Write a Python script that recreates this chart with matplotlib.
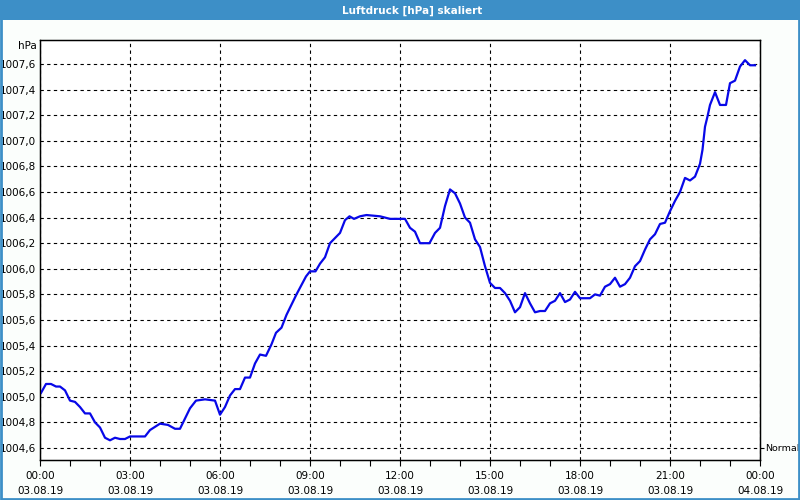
import matplotlib
matplotlib.use("Agg")
import matplotlib.pyplot as plt
from matplotlib.patches import Rectangle
import numpy as np

# minutes after 03.08.19 00:00
minutes = [2, 12, 22, 32, 40, 50, 60, 70, 80, 90, 100, 110, 120, 130, 140, 150,
           160, 170, 180, 190, 210, 220, 240, 256, 270, 280, 300, 312, 330, 350,
           360, 370, 380, 390, 400, 410, 420, 430, 440, 452, 463, 472, 483, 493,
           513, 532, 540, 551, 560, 570, 580, 600, 610, 619, 628, 640, 653, 680,
           700, 730, 740, 750, 760, 779, 790, 800, 810, 820, 830, 840, 850, 860,
           870, 880, 890, 900, 910, 920, 930, 940, 950, 960, 970, 980, 990, 1000,
           1010, 1020, 1030, 1040, 1050, 1060, 1070, 1080, 1100, 1110, 1120, 1130,
           1140, 1150, 1160, 1170, 1180, 1190, 1200, 1210, 1220, 1230, 1240, 1250,
           1260, 1270, 1280, 1290, 1300, 1310, 1320, 1325, 1330, 1335, 1340, 1350,
           1360, 1372, 1380, 1390, 1400, 1410, 1420, 1430]
pressure = [1005.03, 1005.10, 1005.10, 1005.08, 1005.08, 1005.05, 1004.97, 1004.96,
            1004.92, 1004.87, 1004.87, 1004.80, 1004.76, 1004.68, 1004.66, 1004.68,
            1004.67, 1004.67, 1004.69, 1004.69, 1004.69, 1004.74, 1004.79, 1004.78,
            1004.75, 1004.75, 1004.91, 1004.97, 1004.98, 1004.97, 1004.86, 1004.92,
            1005.01, 1005.06, 1005.06, 1005.15, 1005.15, 1005.26, 1005.33, 1005.32,
            1005.41, 1005.50, 1005.54, 1005.64, 1005.80, 1005.94, 1005.98, 1005.98,
            1006.04, 1006.09, 1006.20, 1006.28, 1006.38, 1006.41, 1006.39, 1006.41,
            1006.42, 1006.41, 1006.39, 1006.39, 1006.32, 1006.29, 1006.20, 1006.20,
            1006.28, 1006.32, 1006.49, 1006.62, 1006.59, 1006.51, 1006.40, 1006.36,
            1006.23, 1006.17, 1006.02, 1005.89, 1005.85, 1005.85, 1005.81, 1005.75,
            1005.66, 1005.70, 1005.81, 1005.73, 1005.66, 1005.67, 1005.67, 1005.73,
            1005.75, 1005.81, 1005.74, 1005.76, 1005.82, 1005.77, 1005.77, 1005.80,
            1005.79, 1005.86, 1005.88, 1005.93, 1005.86, 1005.88, 1005.93, 1006.02,
            1006.06, 1006.15, 1006.23, 1006.27, 1006.35, 1006.36, 1006.45, 1006.53,
            1006.60, 1006.71, 1006.69, 1006.72, 1006.82, 1006.93, 1007.11, 1007.19,
            1007.28, 1007.38, 1007.28, 1007.28, 1007.45, 1007.47, 1007.58, 1007.63,
            1007.59, 1007.59]

x_ticks = [0, 3, 6, 9, 12, 15, 18, 21, 24]
x_labels = ["00:00\n03.08.19", "03:00\n03.08.19", "06:00\n03.08.19",
            "09:00\n03.08.19", "12:00\n03.08.19", "15:00\n03.08.19",
            "18:00\n03.08.19", "21:00\n03.08.19", "00:00\n04.08.19"]
y_ticks = [1004.6, 1004.8, 1005.0, 1005.2, 1005.4, 1005.6, 1005.8, 1006.0,
           1006.2, 1006.4, 1006.6, 1006.8, 1007.0, 1007.2, 1007.4, 1007.6]

bar_blue = "#3d8fc7"

fig = plt.figure(figsize=(8, 5), dpi=100, facecolor="#fbfefc")

# title bar and frame
fig.patches.append(Rectangle((0, 0.96), 1, 0.04, transform=fig.transFigure,
                             facecolor=bar_blue, edgecolor="none", zorder=0))
fig.patches.append(Rectangle((0.001, 0.002), 0.998, 0.996, transform=fig.transFigure,
                             facecolor="none", edgecolor=bar_blue, linewidth=2, zorder=1))
fig.text(0.515, 0.979, "Luftdruck [hPa] skaliert", color="white", fontsize=7.5,
         fontweight="bold", ha="center", va="center")

ax = fig.add_axes([0.05, 0.08, 0.90, 0.84])
ax.set_facecolor("white")

hours = np.array(minutes) / 60.0
ax.plot(hours, pressure, color="#0808e8", linewidth=1.6, zorder=3)

ax.set_xlim(0, 24)
ax.set_ylim(1004.506, 1007.7875)

ax.set_xticks(x_ticks)
ax.set_xticklabels(x_labels, fontsize=7.5, linespacing=1.6)
ax.set_xticks(np.arange(0, 25, 1), minor=True)
ax.set_yticks(y_ticks)
ax.set_yticklabels([("%.1f" % v).replace(".", ",") for v in y_ticks], fontsize=7.5)

ax.tick_params(axis="x", which="both", direction="out", length=4, width=0.8, pad=4)
ax.tick_params(axis="y", which="both", length=0, pad=3)

ax.grid(True, which="major", color="black", linestyle=(0, (3, 3)), linewidth=0.8)
for s in ax.spines.values():
    s.set_color("black")
    s.set_linewidth(1.0)

ax.text(-0.004, 0.986, "hPa", transform=ax.transAxes, ha="right", va="center",
        fontsize=7.5)

# "Normal" marker on the right axis
ax2 = ax.twinx()
ax2.set_ylim(ax.get_ylim())
ax2.set_yticks([1004.6])
ax2.set_yticklabels(["Normal"], fontsize=6.8)
ax2.tick_params(axis="y", direction="out", length=3, pad=0.5)

fig.savefig("out.png", dpi=100, facecolor=fig.get_facecolor())
